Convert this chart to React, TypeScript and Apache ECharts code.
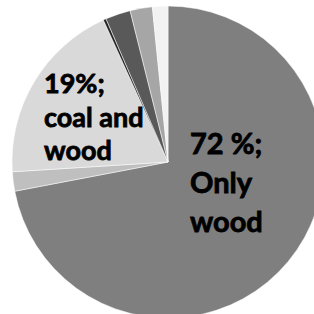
import React, { useEffect, useRef } from "react";
import * as echarts from "echarts";

const categories = ["Only wood", "Other 1", "coal and wood", "Other 2", "Other 3", "Other 4", "Other 5"];
const values = [72, 2, 19.2, 0.3, 2.6, 2.3, 1.6];
const labelTexts = ["72 %;\nOnly\nwood", "", "19%;\ncoal and\nwood", "", "", "", ""];
const colors = ["#7f7f7f", "#bfbfbf", "#d9d9d9", "#262626", "#595959", "#a6a6a6", "#f2f2f2"];

export default function App() {
  const ref = useRef<HTMLDivElement>(null);
  useEffect(() => {
    if (!ref.current) return;
    const chart = echarts.init(ref.current, undefined, { renderer: "svg" });
    const labelPos: Record<number, { x: number; y: number; fontSize: number; lineHeight: number }> = {
      0: { x: 190, y: 123, fontSize: 29, lineHeight: 39 },
      2: { x: 44, y: 66, fontSize: 27, lineHeight: 33.5 },
    };
    chart.setOption({
      animation: false,
      backgroundColor: "#ffffff",
      series: [
        {
          type: "pie",
          center: [168, 162],
          radius: [0, 156],
          startAngle: 90,
          clockwise: true,
          avoidLabelOverlap: false,
          itemStyle: { borderColor: "#ffffff", borderWidth: 0.5 },
          labelLine: { show: false },
          data: categories.map((name, i) => ({
            name,
            value: values[i],
            itemStyle: { color: colors[i] },
            label: labelTexts[i]
              ? {
                  show: true,
                  position: "inside",
                  formatter: labelTexts[i],
                  color: "#000000",
                  fontFamily: "Lato",
                  fontWeight: "bold",
                  fontSize: labelPos[i].fontSize,
                  lineHeight: labelPos[i].lineHeight,
                  align: "left",
                  textBorderColor: "#000000",
                  textBorderWidth: 0.8,
                }
              : { show: false },
          })),
          labelLayout: (params: any) => {
            const p = labelPos[params.dataIndex];
            if (!p) return {};
            return { x: p.x, y: p.y, align: "left", verticalAlign: "top" };
          },
        },
      ],
    });
    return () => chart.dispose();
  }, []);
  return (
    <div
      ref={ref}
      style={{ position: "fixed", left: 0, top: 0, width: 314, height: 314 }}
    />
  );
}
